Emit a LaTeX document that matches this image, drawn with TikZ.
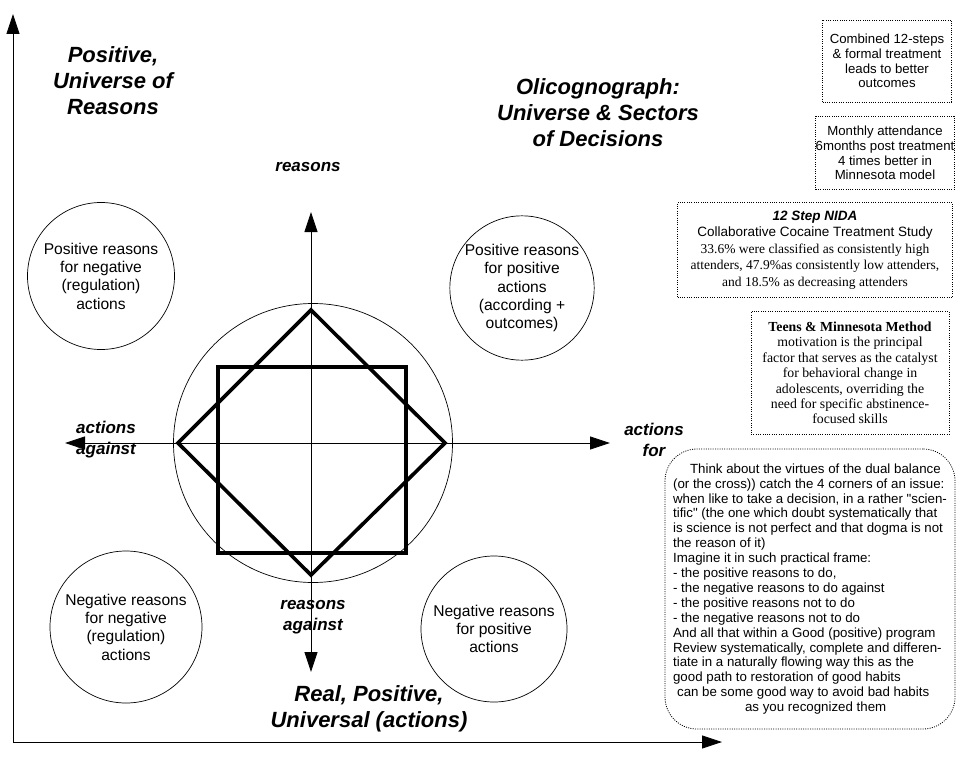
\documentclass[tikz,border=0pt]{standalone}
\usepackage{fontspec}
\setmainfont{Liberation Sans}[Ligatures=TeXOff]
\newfontfamily\timesfont{Liberation Serif}
\usetikzlibrary{arrows.meta,positioning}

\begin{document}
\begin{tikzpicture}[x=1pt,y=-1pt,>={Triangle[length=20pt,width=13pt]},
    thin line/.style={line width=0.8pt},
    bold line/.style={line width=3.6pt,line join=miter},
    sector/.style={circle,draw,line width=0.7pt,align=center,inner sep=0pt,
      font=\fontsize{15.6}{18.3}\selectfont},
    title/.style={align=center,font=\fontsize{22}{26}\selectfont\bfseries\itshape},
    axislabel/.style={align=center,font=\fontsize{17}{21}\selectfont\bfseries\itshape},
    notebox/.style={draw,line width=0.8pt,dash pattern=on 1pt off 1.3pt,
      align=center,inner sep=0pt,font=\fontsize{13.2}{14.7}\selectfont}]
  \useasboundingbox (0,0) rectangle (960,757);

  % outer axes
  \coordinate (origin) at (13,742);
  \coordinate (ytop) at (13,14);
  \coordinate (xend) at (722,742);
  \draw[thin line,->] (origin) -- (ytop);
  \draw[thin line,->] (origin) -- (xend);

  % cross of decisions
  \coordinate (c) at (311,443);
  \coordinate (up) at (311,212);
  \coordinate (down) at (311,672);
  \coordinate (left) at (65,443);
  \coordinate (right) at (610,443);
  \draw[thin line,->] (c) -- (up);
  \draw[thin line,->] (c) -- (down);
  \draw[thin line,->] (c) -- (left);
  \draw[thin line,->] (c) -- (right);

  \node[circle,draw,line width=0.7pt,minimum size=279pt] (ring) at (313,443) {};
  \draw[bold line] (218,367) rectangle (406,553);
  \draw[bold line] (311,310) -- (445,443) -- (311,575) -- (178,443) -- cycle;

  % sectors
  \node[sector,minimum size=147pt] (posneg) at (101,276)
    {Positive reasons\\for negative\\(regulation)\\actions};
  \node[sector,minimum size=144pt] (pospos) at (522,288)
    {Positive reasons\\for positive\\actions\\(according +\\outcomes)};
  \node[sector,minimum size=152pt] (negneg) at (126,627)
    {Negative reasons\\for negative\\(regulation)\\actions};
  \node[sector,minimum size=146pt] (negpos) at (494,629)
    {Negative reasons\\for positive\\actions};

  % titles and axis labels
  \node[title] (universe) at (113,81) {Positive,\\Universe of\\Reasons};
  \node[title] (olico) at (598,113) {Olicognograph:\\Universe \& Sectors\\of Decisions};
  \node[title] (real) at (369,709) {Real, Positive,\\Universal (actions)};
  \node[axislabel] (lreasons) at (308,167) {reasons};
  \node[axislabel] (lagainst) at (106,440) {actions\\against};
  \node[axislabel] (lfor) at (654,440) {actions\\for};
  \node[axislabel] (lreasagainst) at (313,617) {reasons\\against};

  % notes
  \node[notebox,minimum width=129pt,minimum height=82pt] (combined) at (887,61)
    {Combined 12-steps\\\& formal treatment\\leads to better\\outcomes};
  \node[notebox,minimum width=134pt,minimum height=73pt] (monthly) at (885,153)
    {Monthly attendance\\6months post treatment\\4 times better in\\Minnesota model};
  \node[notebox,minimum width=275pt,minimum height=95pt,
    font=\fontsize{13.5}{16.5}\selectfont] (nida) at (815,250)
    {{\bfseries\itshape 12 Step NIDA}\\
     Collaborative Cocaine Treatment Study\\
     {\timesfont 33.6\% were classified as consistently high}\\
     {\timesfont attenders, 47.9\%as consistently low attenders,}\\
     {\timesfont and 18.5\% as decreasing attenders}};
  \node[notebox,minimum width=198pt,minimum height=123pt,
    font=\timesfont\fontsize{13.8}{15.4}\selectfont] (teens) at (850,373)
    {{\bfseries Teens \& Minnesota Method}\\
     motivation is the principal\\
     factor that serves as the catalyst\\
     for behavioral change in\\
     adolescents, overriding the\\
     need for specific abstinence-\\
     focused skills};
  \node[notebox,rounded corners=32pt,minimum width=290pt,minimum height=280pt,
    align=left,font=\fontsize{13.3}{14.9}\selectfont] (advice) at (810,589)
    {\hspace*{17pt}Think about the virtues of the dual balance\\
     (or the cross)) catch the 4 corners of an issue:\\
     when like to take a decision, in a rather "scien-\\
     tific" (the one which doubt systematically that\\
     is science is not perfect and that dogma is not\\
     the reason of it)\\
     Imagine it in such practical frame:\\
     - the positive reasons to do,\\
     - the negative reasons to do against\\
     - the positive reasons not to do\\
     - the negative reasons not to do\\
     And all that within a Good (positive) program\\
     Review systematically, complete and differen-\\
     tiate in a naturally flowing way this as the\\
     good path to restoration of good habits\\
     \hspace*{4pt}can be some good way to avoid bad habits\\
     \hspace*{72pt}as you recognized them};
\end{tikzpicture}
\end{document}
